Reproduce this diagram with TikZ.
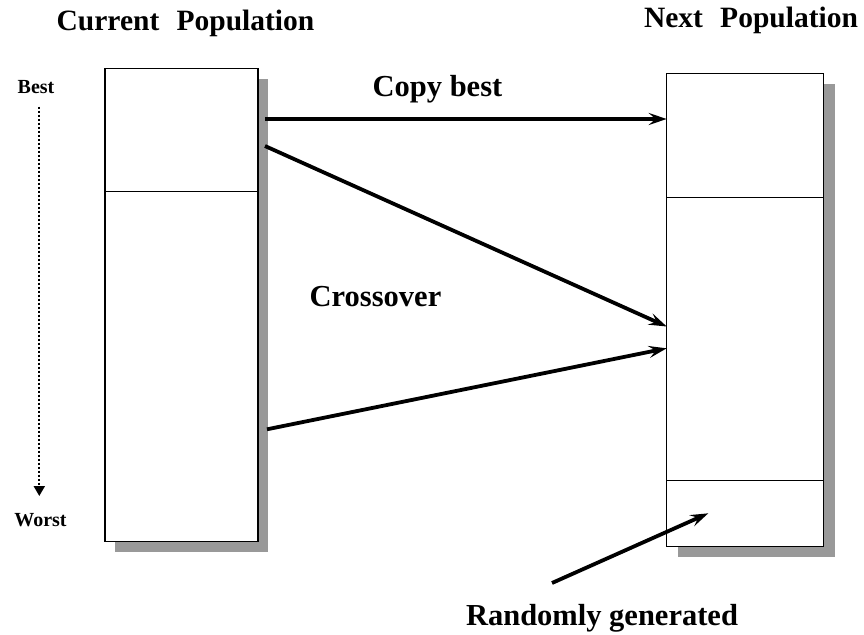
\documentclass[tikz,border=0pt]{standalone}
\usepackage{fontspec}
\setmainfont{Liberation Serif}
\usetikzlibrary{arrows.meta}

\tikzset{
  popbox/.style={draw,line width=1.3pt,fill=white,inner sep=0pt,outer sep=0pt,minimum width=#1},
  popshadow/.style={fill=black!40,draw=none},
  bigtxt/.style={font=\bfseries\fontsize{30.5}{36}\selectfont,anchor=base,inner sep=0pt},
  headtxt/.style={font=\bfseries\fontsize{29.5}{34}\selectfont,anchor=base,inner sep=0pt},
  smalltxt/.style={font=\bfseries\fontsize{20}{24}\selectfont,anchor=base,inner sep=0pt},
  fatarrow/.style={line width=3.8pt,-{Stealth[length=18pt,width=12pt,inset=7pt]}}
}

\begin{document}
\begin{tikzpicture}[x=1pt,y=-1pt]
    \useasboundingbox (0,0) rectangle (864,634);

    % shadows
    \fill [popshadow] (115,78.5) rectangle (268,551.7);
    \fill [popshadow] (677.7,84.3) rectangle (835,557);

    % current population
    \node [popbox=153pt,minimum height=123.2pt] (cbest) at (181.5,130.1) {};
    \node [popbox=153pt,minimum height=350pt] (crest) at (181.5,366.7) {};

    % next population
    \node [popbox=156.6pt,minimum height=124.4pt] (nbest) at (745,135.5) {};
    \node [popbox=156.6pt,minimum height=283pt] (ncross) at (745,339.2) {};
    \node [popbox=156.6pt,minimum height=66pt] (nrand) at (745,513.7) {};

    \node [headtxt] (curlbl) at (185.5,31) {Current\,\, Population};
    \node [headtxt] (nextlbl) at (751,27.3) {Next\,\, Population};
    \node [smalltxt] (best) at (36,93.3) {Best};
    \node [smalltxt] (worst) at (40.5,526) {Worst};
    \node [bigtxt] (copylbl) at (437.5,96.7) {Copy best};
    \node [bigtxt] (crosslbl) at (375.5,306) {Crossover};
    \node [bigtxt] (randlbl) at (602,625) {Randomly generated};

    % best to worst
    \coordinate (bw1) at (39.3,106.5);
    \coordinate (bw2) at (39.3,496);
    \draw [line width=2pt,dotted,-{Triangle[length=10pt,width=11pt]}] (bw1)--(bw2);

    % arrows
    \coordinate (cp1) at (265,119);
    \coordinate (cp2) at (666.7,119);
    \coordinate (xa1) at (265,146);
    \coordinate (xa2) at (666.7,326.5);
    \coordinate (xb1) at (267,429.3);
    \coordinate (xb2) at (666.7,348.3);
    \coordinate (rg1) at (552,583);
    \coordinate (rg2) at (708.3,513.3);
    \draw [fatarrow] (cp1)--(cp2);
    \draw [fatarrow] (xa1)--(xa2);
    \draw [fatarrow] (xb1)--(xb2);
    \draw [fatarrow] (rg1)--(rg2);
\end{tikzpicture}
\end{document}
